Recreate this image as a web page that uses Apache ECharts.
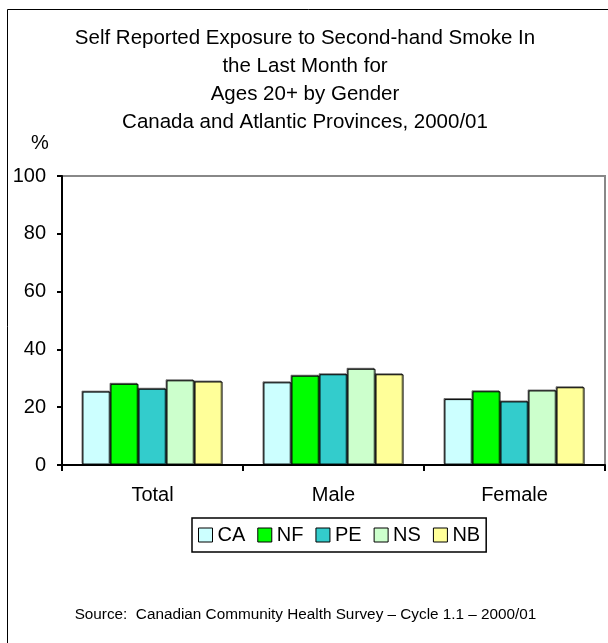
<!DOCTYPE html>
<html><head><meta charset="utf-8">
<script src="https://cdn.jsdelivr.net/npm/echarts@6/dist/echarts.min.js"></script>
<style>html,body{margin:0;padding:0;background:#fff}#c{width:608px;height:643px}</style>
</head><body><div id="c"></div>
<script>
const categories = ['Total', 'Male', 'Female'];
const seriesNames = ['CA', 'NF', 'PE', 'NS', 'NB'];
const CA = [25.4, 28.6, 22.8];
const NF = [28.1, 30.9, 25.5];
const PE = [26.4, 31.4, 22.0];
const NS = [29.3, 33.3, 25.8];
const NB = [28.9, 31.4, 26.9];
const yTicks = [0, 20, 40, 60, 80, 100];
const colors = ['#CCFFFF', '#00FF00', '#33CCCC', '#CCFFCC', '#FFFF99'];
const values = [CA, NF, PE, NS, NB];

const chart = echarts.init(document.getElementById('c'), null, {renderer: 'canvas'});
const font = 'Arial, "Liberation Sans", sans-serif';
chart.setOption({
  animation: false,
  backgroundColor: '#fff',
  color: colors,
  title: {
    text: 'Self Reported Exposure to Second-hand Smoke In\nthe Last Month for\nAges 20+ by Gender\nCanada and Atlantic Provinces, 2000/01',
    left: 300, top: 19, textAlign: 'center',
    textStyle: {fontFamily: font, fontSize: 20.5, fontWeight: 'normal', color: '#000', lineHeight: 28}
  },
  legend: {
    data: seriesNames,
    left: 192, top: 518,
    icon: 'rect', itemWidth: 14, itemHeight: 14, itemGap: 12,
    padding: [7, 6],
    borderColor: '#000', borderWidth: 1.5,
    textStyle: {fontFamily: font, fontSize: 20, color: '#000'},
    itemStyle: {borderColor: '#000', borderWidth: 1}
  },
  grid: {left: 62, right: 3, top: 176, bottom: 178, show: true, borderColor: '#888', borderWidth: 2, backgroundColor: 'transparent'},
  xAxis: {
    type: 'category', data: categories,
    axisLine: {lineStyle: {color: '#000', width: 2}},
    axisTick: {show: true, length: 6, lineStyle: {color: '#000', width: 2}},
    axisLabel: {fontFamily: font, fontSize: 20, color: '#000', margin: 20},
    splitLine: {show: false}
  },
  yAxis: {
    type: 'value', min: 0, max: 100, interval: 20,
    axisLine: {show: true, lineStyle: {color: '#000', width: 2}},
    axisTick: {show: true, length: 5, lineStyle: {color: '#000', width: 2}},
    axisLabel: {fontFamily: font, fontSize: 20, color: '#000', margin: 16,
      formatter: v => yTicks.includes(v) ? String(v) : ''},
    splitLine: {show: false}
  },
  graphic: [
    {type: 'rect', shape: {x: 7.5, y: 9.5, width: 800, height: 800}, style: {fill: 'none', stroke: '#000', lineWidth: 1}, z: 100},
    {type: 'text', x: 31, y: 133, style: {text: '%', font: '20px ' + font, fill: '#000'}},
    {type: 'text', x: 305.5, y: 615, style: {text: 'Source:  Canadian Community Health Survey \u2013 Cycle 1.1 \u2013 2000/01', font: '15.3px ' + font, fill: '#000', align: 'center', verticalAlign: 'middle'}}
  ],
  series: seriesNames.map((n, i) => ({
    name: n, type: 'bar', data: values[i],
    barGap: '0%', barCategoryGap: '22.6%',
    itemStyle: {color: colors[i], borderColor: '#000', borderWidth: 1,
      shadowColor: 'rgba(0,0,0,0.45)', shadowOffsetX: -1, shadowOffsetY: -1, shadowBlur: 0}
  }))
});
</script></body></html>
